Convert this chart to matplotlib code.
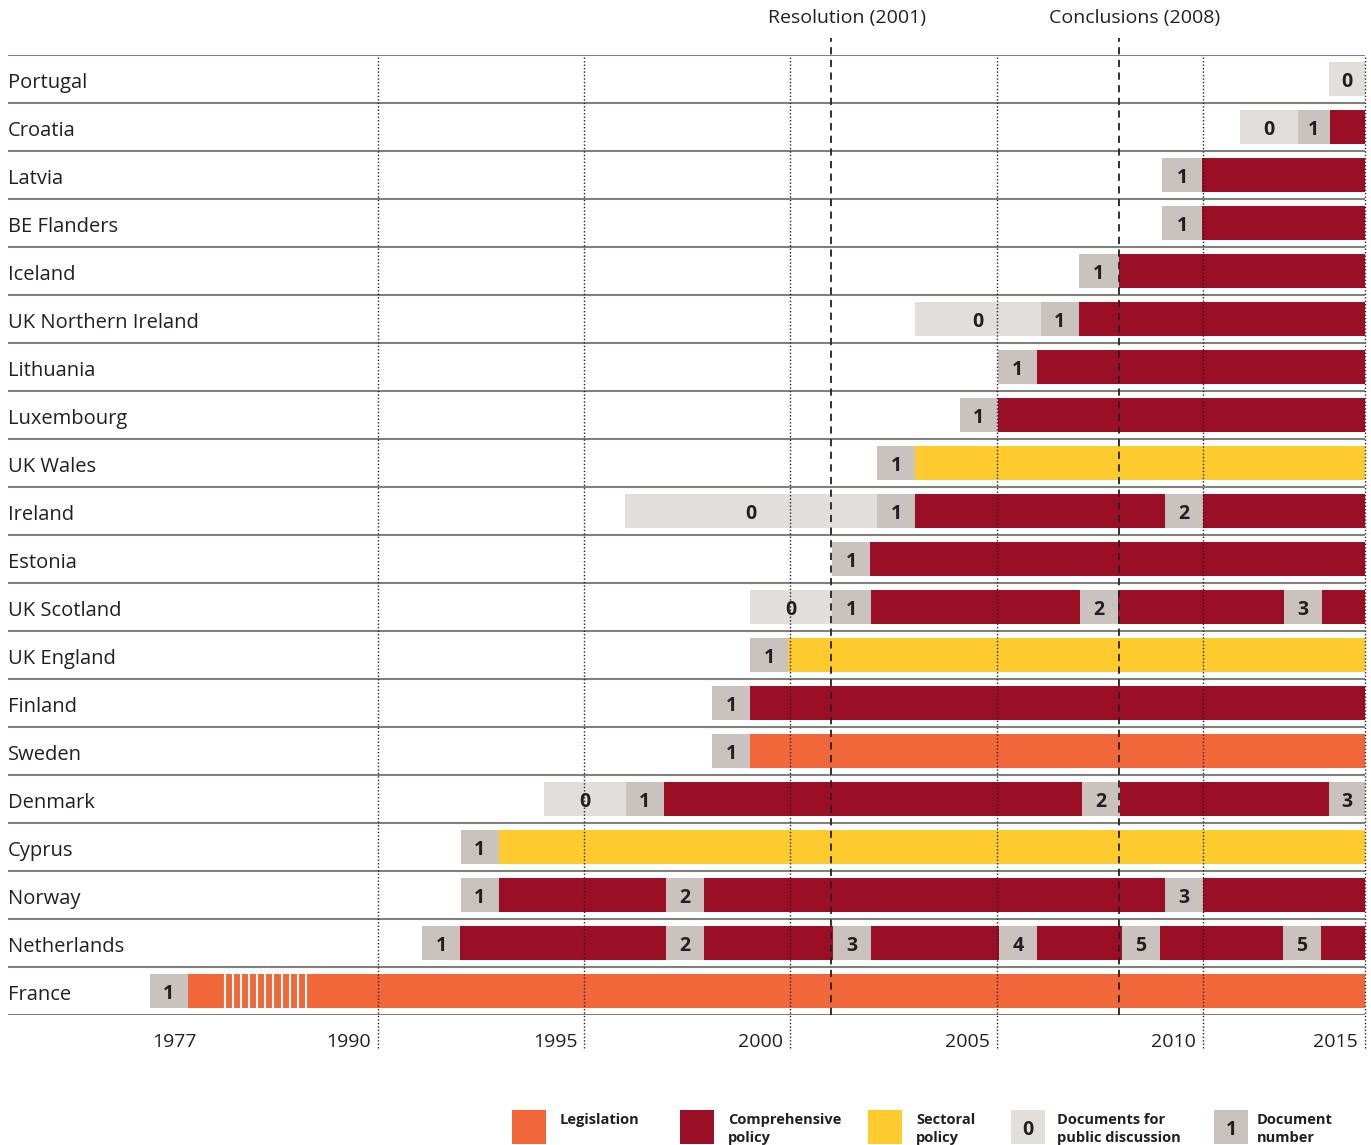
"""
Policy documents timeline by country
"""
import matplotlib
matplotlib.use('Agg')
import matplotlib.pyplot as plt
import matplotlib.transforms as mtransforms
from matplotlib.patches import Rectangle
import numpy as np

plt.rcParams['font.family'] = ['Open Sans', 'DejaVu Sans']

# countries, top to bottom
countries = ['Portugal', 'Croatia', 'Latvia', 'BE Flanders', 'Iceland',
             'UK Northern Ireland', 'Lithuania', 'Luxembourg', 'UK Wales',
             'Ireland', 'Estonia', 'UK Scotland', 'UK England', 'Finland',
             'Sweden', 'Denmark', 'Cyprus', 'Norway', 'Netherlands', 'France']

# segments: (start year, kind, label) - each runs until the next one starts
portugal = [(2013.05, 'disc', '0')]
croatia = [(2010.90, 'disc', '0'), (2012.30, 'doc', '1'), (2013.08, 'comp', '')]
latvia = [(2009.01, 'doc', '1'), (2009.98, 'comp', '')]
be_flanders = [(2009.01, 'doc', '1'), (2009.98, 'comp', '')]
iceland = [(2006.99, 'doc', '1'), (2007.96, 'comp', '')]
uk_n_ireland = [(2003.02, 'disc', '0'), (2006.07, 'doc', '1'), (2006.99, 'comp', '')]
lithuania = [(2005.03, 'doc', '1'), (2005.98, 'comp', '')]
luxembourg = [(2004.11, 'doc', '1'), (2005.03, 'comp', '')]
uk_wales = [(2002.10, 'doc', '1'), (2003.02, 'sect', '')]
ireland = [(1995.99, 'disc', '0'), (2002.10, 'doc', '1'), (2003.02, 'comp', ''),
           (2009.08, 'doc', '2'), (2010.00, 'comp', '')]
estonia = [(2001.01, 'doc', '1'), (2001.93, 'comp', '')]
uk_scotland = [(1999.02, 'disc', '0'), (2001.01, 'doc', '1'), (2001.95, 'comp', ''),
               (2007.02, 'doc', '2'), (2007.94, 'comp', ''),
               (2011.96, 'doc', '3'), (2012.88, 'comp', '')]
uk_england = [(1999.02, 'doc', '1'), (1999.94, 'sect', '')]
finland = [(1998.10, 'doc', '1'), (1999.02, 'comp', '')]
sweden = [(1998.10, 'doc', '1'), (1999.02, 'leg', '')]
denmark = [(1994.02, 'disc', '0'), (1996.01, 'doc', '1'), (1996.93, 'comp', ''),
           (2007.07, 'doc', '2'), (2007.99, 'comp', ''), (2013.05, 'doc', '3')]
cyprus = [(1992.01, 'doc', '1'), (1992.93, 'sect', '')]
norway = [(1992.01, 'doc', '1'), (1992.93, 'comp', ''), (1996.98, 'doc', '2'),
          (1997.90, 'comp', ''), (2009.08, 'doc', '3'), (2010.00, 'comp', '')]
netherlands = [(1991.07, 'doc', '1'), (1991.99, 'comp', ''), (1996.98, 'doc', '2'),
               (1997.90, 'comp', ''), (2001.03, 'doc', '3'), (2001.95, 'comp', ''),
               (2005.05, 'doc', '4'), (2005.98, 'comp', ''), (2008.04, 'doc', '5'),
               (2008.96, 'comp', ''), (2011.94, 'doc', '5'), (2012.86, 'comp', '')]
france = [(1984.47, 'doc', '1'), (1985.39, 'leg', '')]

rows = [portugal, croatia, latvia, be_flanders, iceland, uk_n_ireland, lithuania,
        luxembourg, uk_wales, ireland, estonia, uk_scotland, uk_england, finland,
        sweden, denmark, cyprus, norway, netherlands, france]

# axis (compressed before 1990: France starts in 1977)
x_left, x_right = 1981.03, 2013.93
grid_years = [1990, 1995, 2000, 2005, 2010, 2013.93]
grid_labels = ['1990', '1995', '2000', '2005', '2010', '2015']
origin_label = '1977'
france_break = (1986.29, 1988.25)

event_labels = ['Resolution (2001)', 'Conclusions (2008)']
event_years = [2000.99, 2007.96]

colors = {'leg': '#f26739', 'comp': '#9b0f26', 'sect': '#fdcb2e',
          'disc': '#e2dedc', 'doc': '#c9c2be'}
txt = '#231f20'

fig = plt.figure(figsize=(13.71, 11.45), dpi=100)
ax = fig.add_axes([8 / 1371, 1 - 1015 / 1145, 1357 / 1371, 960 / 1145])
ax.set_xlim(x_left, x_right)
ax.set_ylim(len(rows), 0)
ax.axis('off')

bar_h = 0.69
name_tr = mtransforms.blended_transform_factory(ax.transAxes, ax.transData)
for i, segs in enumerate(rows):
    y = i + 0.5
    for j, (start, kind, label) in enumerate(segs):
        end = segs[j + 1][0] if j + 1 < len(segs) else x_right
        ax.barh(y, end - start, left=start, height=bar_h, color=colors[kind],
                linewidth=0, zorder=2)
        if label:
            ax.text((start + end) / 2, y + 0.06, label, ha='center', va='center',
                    fontsize=14, fontweight='bold', color=txt, zorder=6)
    ax.text(0, y + 0.09, countries[i], transform=name_tr,
            ha='left', va='center', fontsize=14.5, color=txt, zorder=6)

# break marks in the French bar
fy = countries.index('France') + 0.5
for xs in np.linspace(france_break[0], france_break[1], 11):
    ax.plot([xs, xs], [fy - bar_h / 2, fy + bar_h / 2], color='white', lw=1.5, zorder=3)

# row separators
for k in range(len(rows) + 1):
    ax.axhline(k, color='#808080', lw=1.5, zorder=4)

# year grid
for g in grid_years:
    ax.axvline(g, ymin=-33 / 960, ymax=1, color='#222222', lw=1,
               linestyle=(0, (1, 1.5)), clip_on=False, zorder=5)

bt = mtransforms.blended_transform_factory(ax.transData, ax.transAxes)
lab_tr = mtransforms.offset_copy(bt, fig=fig, x=-7, y=0, units='dots')
for g, lab in zip(grid_years, grid_labels):
    ax.text(g, -27 / 960, lab, transform=lab_tr, ha='right', va='center',
            fontsize=14, color=txt)
ax.text(france[0][0], -27 / 960, origin_label,
        transform=mtransforms.offset_copy(bt, fig=fig, x=2, y=0, units='dots'),
        ha='left', va='center', fontsize=14, color=txt)

# policy events
ev_tr = mtransforms.offset_copy(bt, fig=fig, x=16, y=0, units='dots')
for ev, lab in zip(event_years, event_labels):
    ax.axvline(ev, ymin=0, ymax=1 + 17 / 960, color='#222222', lw=1.3,
               linestyle=(0, (4, 3)), clip_on=False, zorder=5)
    ax.text(ev, 1 + 37 / 960, lab, transform=ev_tr, ha='center', va='center',
            fontsize=14, color=txt)

# legend
lax = fig.add_axes([0, 0, 1, 1], zorder=-1)
lax.set_xlim(0, 1371)
lax.set_ylim(1145, 0)
lax.axis('off')
leg_kinds = ['leg', 'comp', 'sect', 'disc', 'doc']
leg_marks = ['', '', '', '0', '1']
leg_texts = ['Legislation', 'Comprehensive\npolicy', 'Sectoral\npolicy',
             'Documents for\npublic discussion', 'Document\nnumber']
leg_x = [512, 680, 868, 1011, 1214]
leg_tx = [560, 728, 916, 1057, 1257]
for kind, mark, t, x0, tx in zip(leg_kinds, leg_marks, leg_texts, leg_x, leg_tx):
    lax.add_patch(Rectangle((x0, 1110), 34, 34, color=colors[kind], lw=0))
    if mark:
        lax.text(x0 + 17, 1130, mark, ha='center', va='center', fontsize=14,
                 fontweight='bold', color=txt)
    lax.text(tx, 1113, t, ha='left', va='top', fontsize=10.5, fontweight='bold',
             color=txt, linespacing=1.35)

fig.savefig('out.png', dpi=100)
